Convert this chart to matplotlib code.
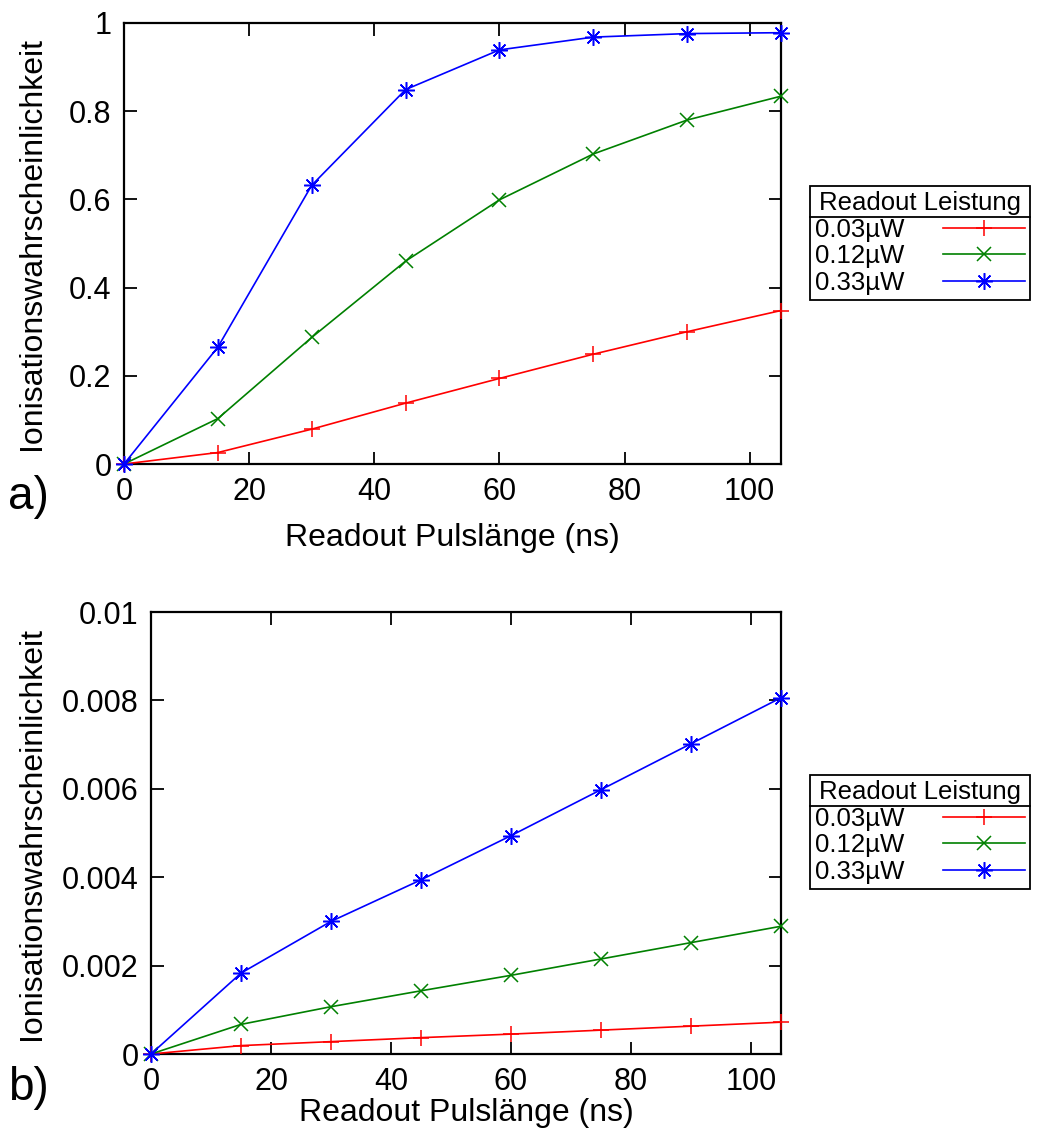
"""Ionisationswahrscheinlichkeit vs. Readout Pulslaenge, two panels (a, b)."""
import matplotlib
matplotlib.use('Agg')
import matplotlib.pyplot as plt
from matplotlib.lines import Line2D
from matplotlib.ticker import FormatStrFormatter

plt.rcParams['font.family'] = ['Liberation Sans', 'DejaVu Sans']

pulse_ns = [0, 15, 30, 45, 60, 75, 90, 105]
power_labels = ['0.03\u00b5W', '0.12\u00b5W', '0.33\u00b5W']

# panel a
ion_a_003 = [0, 0.026, 0.079, 0.138, 0.194, 0.249, 0.300, 0.348]
ion_a_012 = [0, 0.103, 0.287, 0.460, 0.599, 0.703, 0.780, 0.834]
ion_a_033 = [0, 0.265, 0.632, 0.849, 0.939, 0.968, 0.976, 0.978]

# panel b
ion_b_003 = [0, 0.00019, 0.00028, 0.00037, 0.00045, 0.00054, 0.00063, 0.00072]
ion_b_012 = [0, 0.00067, 0.00107, 0.00143, 0.00178, 0.00215, 0.00252, 0.00289]
ion_b_033 = [0, 0.00183, 0.00300, 0.00394, 0.00494, 0.00598, 0.00702, 0.00806]

xticks = [0, 20, 40, 60, 80, 100]
yticks_a = [0, 0.2, 0.4, 0.6, 0.8, 1.0]
yticks_b = [0, 0.002, 0.004, 0.006, 0.008, 0.01]

colors = ['#ff0000', '#008000', '#0000ff']
markers = ['+', 'x', (8, 2, 0)]
msizes = [12, 10, 12]

W, H = 1037, 1142
fig = plt.figure(figsize=(W / 100, H / 100), dpi=100)


def fx(px):
    return px / W


def fy(py):
    return 1 - py / H


def panel(rect, series, yticks, ylim, legend_top, tag, tag_y, xlabelpad):
    ax = fig.add_axes(rect)
    for ys, c, m, ms, lab in zip(series, colors, markers, msizes, power_labels):
        ax.plot(pulse_ns, ys, color=c, marker=m, markersize=ms, mew=1.1,
                lw=1.2, label=lab, clip_on=False, zorder=3)
    ax.set_xlim(0, 105)
    ax.set_ylim(*ylim)
    ax.set_xticks(xticks)
    ax.set_yticks(yticks)
    ax.yaxis.set_major_formatter(FormatStrFormatter('%g'))
    ax.tick_params(direction='in', top=True, right=True, length=9, width=1.3,
                   labelsize=22)
    ax.tick_params(axis='y', pad=9)
    ax.tick_params(axis='x', pad=9)
    for s in ax.spines.values():
        s.set_linewidth(1.6)
    ax.set_xlabel('Readout Pulsl\u00e4nge (ns)', fontsize=23, labelpad=xlabelpad)
    ax.set_ylabel('Ionisationswahrscheinlichkeit', fontsize=23)
    ax.yaxis.set_label_coords(fx(47), 0.5 * (rect[1] * 2 + rect[3]),
                              transform=fig.transFigure)

    leg = ax.legend(loc='upper left', bbox_to_anchor=(fx(810), fy(legend_top)),
                    bbox_transform=fig.transFigure, title='Readout Leistung',
                    markerfirst=False, fontsize=18.5, title_fontsize=18.5,
                    frameon=True, fancybox=False, edgecolor='black',
                    framealpha=1, handlelength=3.2, handletextpad=1.5,
                    labelspacing=0.1, borderpad=0.2, borderaxespad=0)
    leg.get_frame().set_linewidth(1.3)
    fig.text(fx(8), fy(tag_y), tag, fontsize=33, va='center', ha='left')
    return ax, leg


ax_a, leg_a = panel([fx(124), fy(464), fx(781) - fx(124), fy(23) - fy(464)],
                    [ion_a_003, ion_a_012, ion_a_033], yticks_a, (0, 1), 186,
                    'a)', 497, 12)
ax_b, leg_b = panel([fx(151), fy(1054), fx(781) - fx(151), fy(612) - fy(1054)],
                    [ion_b_003, ion_b_012, ion_b_033], yticks_b, (0, 0.01), 775,
                    'b)', 1088, 1)

# separator line under the legend title (gnuplot style)
fig.canvas.draw()
renderer = fig.canvas.get_renderer()
inv = fig.transFigure.inverted()
for leg in (leg_a, leg_b):
    fb = leg.get_frame().get_window_extent(renderer)
    tb = leg.get_title().get_window_extent(renderer)
    y = tb.y0 - 2
    (x0, yy), (x1, _) = inv.transform([(fb.x0, y), (fb.x1, y)])
    fig.add_artist(Line2D([x0, x1], [yy, yy], color='black', lw=1.3,
                          transform=fig.transFigure))

fig.savefig('out.png', dpi=100)
